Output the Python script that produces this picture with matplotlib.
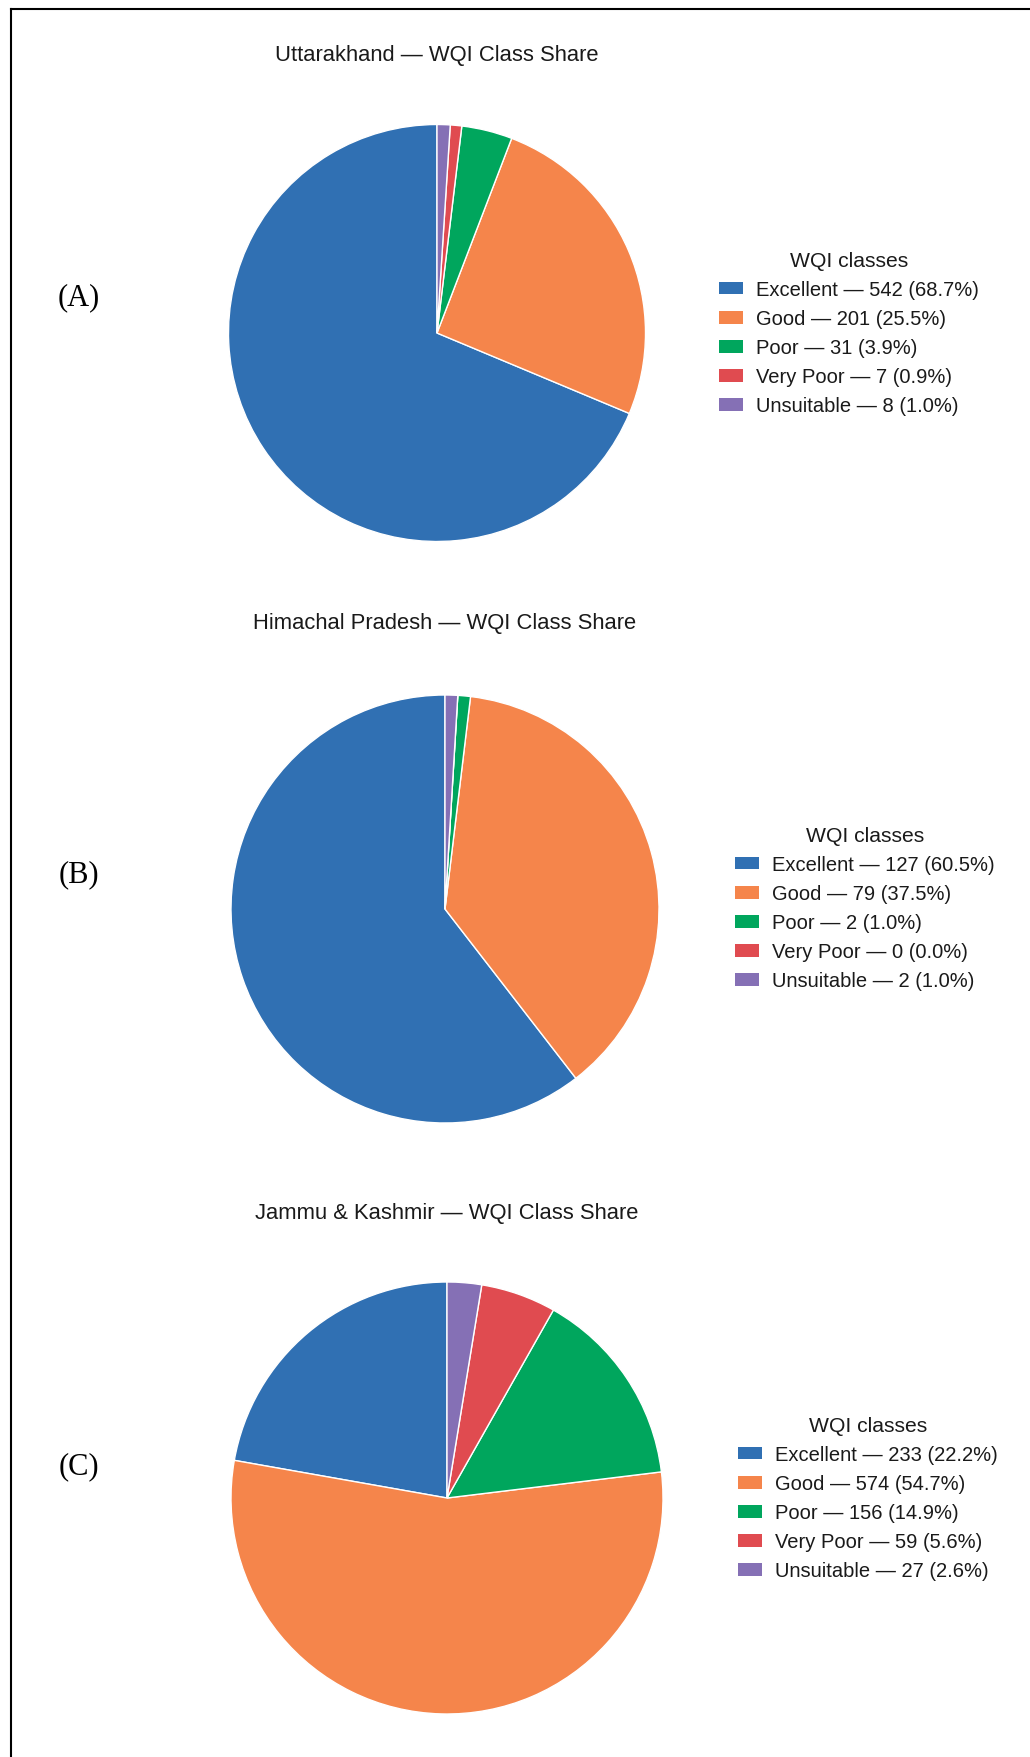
"""Pie charts of the WQI class share for three Himalayan states."""

from matplotlib import pyplot
from matplotlib.lines import Line2D
from matplotlib.patches import Patch

classes = ['Excellent', 'Good', 'Poor', 'Very Poor', 'Unsuitable']
colors = ['#3070b3', '#f5854b', '#00a65d', '#e04b50', '#8570b5']

states = ['Uttarakhand', 'Himachal Pradesh', 'Jammu & Kashmir']
panel_labels = ['(A)', '(B)', '(C)']
counts_uk = [542, 201, 31, 7, 8]
counts_hp = [127, 79, 2, 0, 2]
counts_jk = [233, 574, 156, 59, 27]
all_counts = [counts_uk, counts_hp, counts_jk]
# shares as printed in the legends
pct_uk = [68.7, 25.5, 3.9, 0.9, 1.0]
pct_hp = [60.5, 37.5, 1.0, 0.0, 1.0]
pct_jk = [22.2, 54.7, 14.9, 5.6, 2.6]
all_pct = [pct_uk, pct_hp, pct_jk]

W, H = 1030, 1758
# pixel layout: pie center x, y, radius; title y; legend top-left; panel label y
pies = [(437, 334, 208.5), (445, 910, 214), (447, 1499, 216)]
title_y = [55, 624, 1213]
legend_xy = [(709, 242), (725, 817), (728, 1407)]
label_y = [298, 875, 1467]

pyplot.rcParams['font.family'] = ['Liberation Sans', 'DejaVu Sans']
fig = pyplot.figure(figsize=(W / 100, H / 100), dpi=100)

for i in range(3):
    xc, yc, R = pies[i]
    ax = fig.add_axes([(xc - R) / W, (H - yc - R) / H, 2 * R / W, 2 * R / H])
    counts = all_counts[i]
    ax.pie(counts, colors=colors, startangle=90, counterclock=True,
           wedgeprops=dict(edgecolor='white', linewidth=1.0))
    ax.set_xlim(-1.0, 1.0)
    ax.set_ylim(-1.0, 1.0)
    ax.set_aspect('equal')

    fig.text(xc / W, 1 - title_y[i] / H, f'{states[i]} \u2014 WQI Class Share',
             ha='center', va='center', fontsize=15.85, color='#1a1a1a')

    handles = [Patch(facecolor=c, edgecolor='none') for c in colors]
    labels = [f'{name} \u2014 {n} ({p:.1f}%)'
              for name, n, p in zip(classes, counts, all_pct[i])]
    lx, ly = legend_xy[i]
    leg = fig.legend(handles, labels, loc='upper left',
                     bbox_to_anchor=(lx / W, 1 - ly / H), frameon=False,
                     title='WQI classes', fontsize=14.5, title_fontsize=15.2,
                     borderpad=0, handlelength=1.19, handleheight=0.6,
                     handletextpad=0.65, labelspacing=0.5)
    for t in leg.get_texts():
        t.set_color('#1a1a1a')
    leg.get_title().set_color('#1a1a1a')

    fig.text(78.5 / W, 1 - label_y[i] / H, panel_labels[i], ha='center',
             va='center', fontsize=22, family='Liberation Serif')

# border at the top and left edge
fig.add_artist(Line2D([11 / W, 1.0], [1 - 10 / H, 1 - 10 / H],
                      transform=fig.transFigure, color='black', linewidth=1.5))
fig.add_artist(Line2D([11 / W, 11 / W], [0.0, 1 - 10 / H],
                      transform=fig.transFigure, color='black', linewidth=1.5))

fig.savefig('out.png', dpi=100)
